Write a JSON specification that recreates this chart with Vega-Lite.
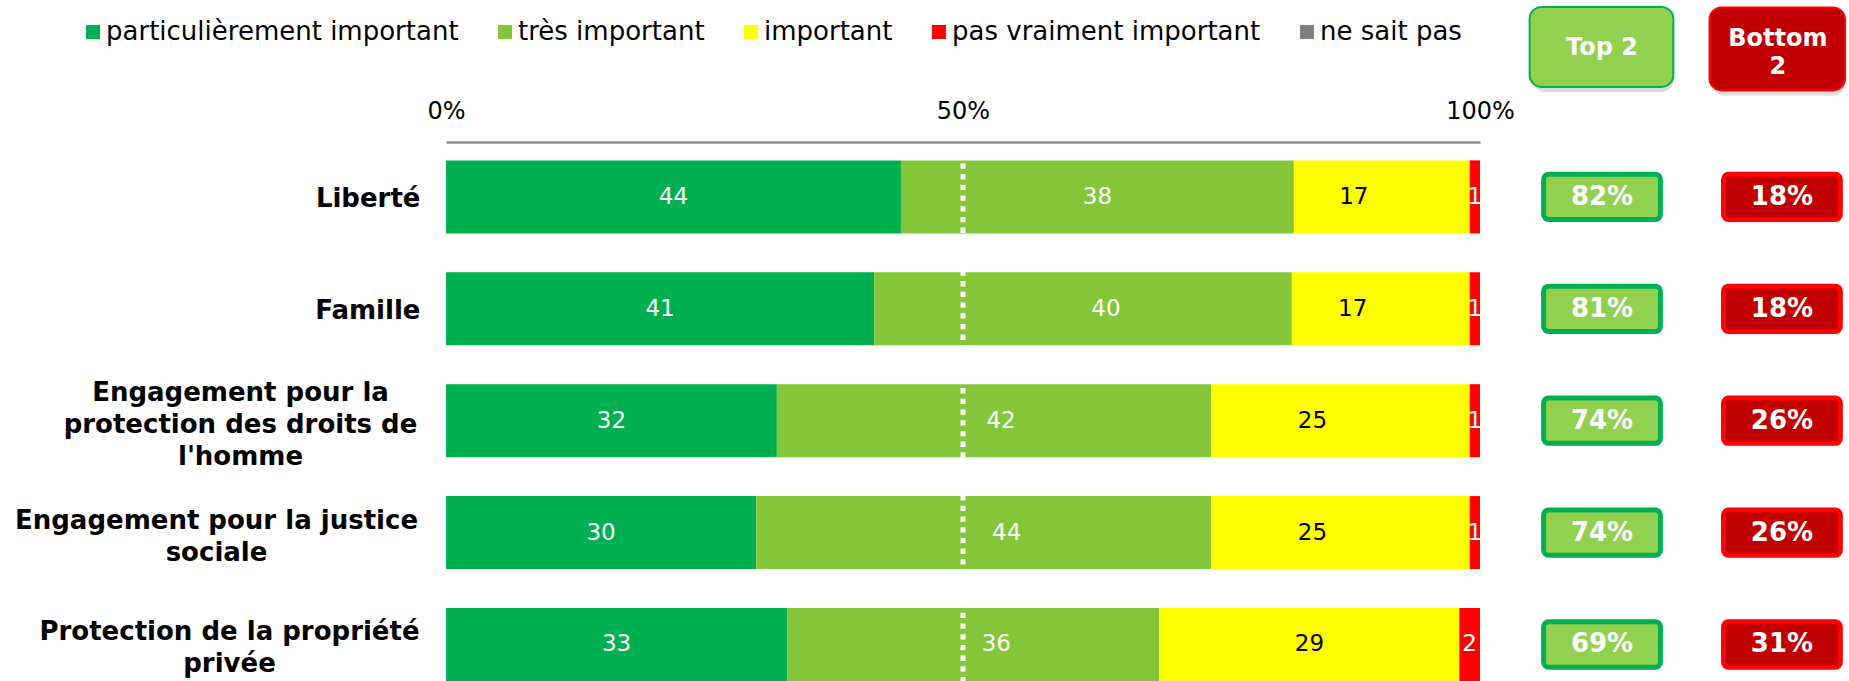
{
  "$schema": "https://vega.github.io/schema/vega-lite/v6.json",
  "autosize": "none",
  "padding": {"left": 446, "top": 142, "right": 369, "bottom": 0},
  "width": 1034,
  "height": 539,
  "background": "white",
  "config": {"view": {"stroke": null}, "font": "DejaVu Sans"},
  "datasets": {
    "shares": [
      {"item": "Liberté", "cat": "particulièrement important", "o": 1, "v": 44},
      {"item": "Liberté", "cat": "très important", "o": 2, "v": 38},
      {"item": "Liberté", "cat": "important", "o": 3, "v": 17},
      {"item": "Liberté", "cat": "pas vraiment important", "o": 4, "v": 1},
      {"item": "Famille", "cat": "particulièrement important", "o": 1, "v": 41.4},
      {"item": "Famille", "cat": "très important", "o": 2, "v": 40.4},
      {"item": "Famille", "cat": "important", "o": 3, "v": 17.2},
      {"item": "Famille", "cat": "pas vraiment important", "o": 4, "v": 1},
      {"item": "Engagement pour la protection des droits de l'homme", "cat": "particulièrement important", "o": 1, "v": 32},
      {"item": "Engagement pour la protection des droits de l'homme", "cat": "très important", "o": 2, "v": 42},
      {"item": "Engagement pour la protection des droits de l'homme", "cat": "important", "o": 3, "v": 25},
      {"item": "Engagement pour la protection des droits de l'homme", "cat": "pas vraiment important", "o": 4, "v": 1},
      {"item": "Engagement pour la justice sociale", "cat": "particulièrement important", "o": 1, "v": 30},
      {"item": "Engagement pour la justice sociale", "cat": "très important", "o": 2, "v": 44},
      {"item": "Engagement pour la justice sociale", "cat": "important", "o": 3, "v": 25},
      {"item": "Engagement pour la justice sociale", "cat": "pas vraiment important", "o": 4, "v": 1},
      {"item": "Protection de la propriété privée", "cat": "particulièrement important", "o": 1, "v": 33},
      {"item": "Protection de la propriété privée", "cat": "très important", "o": 2, "v": 36},
      {"item": "Protection de la propriété privée", "cat": "important", "o": 3, "v": 29},
      {"item": "Protection de la propriété privée", "cat": "pas vraiment important", "o": 4, "v": 2}
    ],
    "tb": [
      {"item": "Liberté", "top2": 0.82, "bottom2": 0.18},
      {"item": "Famille", "top2": 0.81, "bottom2": 0.18},
      {"item": "Engagement pour la protection des droits de l'homme", "top2": 0.74, "bottom2": 0.26},
      {"item": "Engagement pour la justice sociale", "top2": 0.74, "bottom2": 0.26},
      {"item": "Protection de la propriété privée", "top2": 0.69, "bottom2": 0.31}
    ]
  },
  "layer": [
    {
      "data": {"name": "shares"},
      "mark": {"type": "bar"},
      "encoding": {
        "y": {
          "field": "item", "type": "nominal", "title": null,
          "scale": {
            "domain": ["Liberté", "Famille", "Engagement pour la protection des droits de l'homme", "Engagement pour la justice sociale", "Protection de la propriété privée"],
            "paddingInner": 0.3476, "paddingOuter": 0.0822, "align": 1
          },
          "axis": {
            "domain": false, "ticks": false, "tickSize": 0, "grid": false,
            "labelFontSize": 26, "labelFontWeight": "bold", "labelColor": "black",
            "labelLimit": 600, "labelLineHeight": 32, "labelBaseline": "middle",
            "labelExpr": "datum.value == \"Engagement pour la protection des droits de l'homme\" ? ['Engagement pour la', 'protection des droits de', \"l'homme\"] : datum.value == 'Engagement pour la justice sociale' ? ['Engagement pour la justice', 'sociale'] : datum.value == 'Protection de la propriété privée' ? ['Protection de la propriété', 'privée'] : datum.value",
            "labelAlign": {"condition": {"test": "indexof(datum.value, 'Engagement') == 0 || indexof(datum.value, 'Protection') == 0", "value": "center"}, "value": "right"},
            "labelPadding": {"condition": [
              {"test": "datum.value == 'Engagement pour la justice sociale'", "value": 230},
              {"test": "indexof(datum.value, 'droits') >= 0", "value": 206},
              {"test": "indexof(datum.value, 'Protection') == 0", "value": 217}
            ], "value": 26},
            "labelOffset": {"condition": [
              {"test": "indexof(datum.value, 'droits') >= 0", "value": -28},
              {"test": "indexof(datum.value, 'Engagement') == 0 || indexof(datum.value, 'Protection') == 0", "value": -12}
            ], "value": 2}
          }
        },
        "x": {
          "field": "v", "type": "quantitative", "stack": "zero",
          "scale": {"domain": [0, 100], "nice": false},
          "axis": {
            "orient": "top", "values": [0, 50, 100], "labelExpr": "datum.value + '%'",
            "title": null, "grid": false, "ticks": false, "tickSize": 0,
            "labelPadding": 31, "labelBaseline": "middle", "labelFontSize": 24,
            "labelColor": "black", "labelFlush": false, "labelOverlap": false,
            "domain": true, "domainColor": "#8c8c8c", "domainWidth": 2.5, "zindex": 1
          }
        },
        "color": {
          "field": "cat", "type": "nominal",
          "scale": {
            "domain": ["particulièrement important", "très important", "important", "pas vraiment important", "ne sait pas"],
            "range": ["#00B050", "#84C63A", "#FFFF00", "#FF0000", "#808080"]
          },
          "legend": {
            "orient": "none", "legendX": -366, "legendY": -123, "direction": "horizontal",
            "title": null, "symbolType": "square", "symbolSize": 196, "symbolStrokeWidth": 0,
            "labelFontSize": 26, "labelColor": "black", "labelOffset": 0, "columnPadding": 33,
            "labelLimit": 600
          }
        },
        "order": {"field": "o", "type": "quantitative"}
      }
    },
    {
      "data": {"values": [{}]},
      "mark": {"type": "rule", "color": "white", "strokeWidth": 5, "strokeDash": [5.3, 5.4]},
      "encoding": {"x": {"datum": 50}}
    },
    {
      "data": {"name": "shares"},
      "mark": {"type": "text", "fontSize": 23},
      "encoding": {
        "y": {"field": "item", "type": "nominal"},
        "x": {"field": "v", "type": "quantitative", "stack": "zero", "bandPosition": 0.5},
        "detail": {"field": "cat"},
        "order": {"field": "o", "type": "quantitative"},
        "text": {"condition": {"test": "!((datum.cat == 'important' && datum.item != 'Protection de la propriété privée') || (datum.cat == 'très important' && datum.item != 'Liberté'))", "field": "v", "type": "quantitative", "format": ".0f"}, "value": ""},
        "color": {"condition": {"test": "datum.cat == 'important'", "value": "black"}, "value": "white"}
      }
    },
    {
      "data": {"name": "shares"},
      "mark": {"type": "text", "fontSize": 23, "dx": -28, "color": "black"},
      "encoding": {
        "y": {"field": "item", "type": "nominal"},
        "x": {"field": "v", "type": "quantitative", "stack": "zero", "bandPosition": 0.5},
        "detail": {"field": "cat"},
        "order": {"field": "o", "type": "quantitative"},
        "text": {"condition": {"test": "datum.cat == 'important' && datum.item != 'Protection de la propriété privée'", "field": "v", "type": "quantitative", "format": ".0f"}, "value": ""}
      }
    },
    {
      "data": {"name": "shares"},
      "mark": {"type": "text", "fontSize": 23, "dx": 23, "color": "white"},
      "encoding": {
        "y": {"field": "item", "type": "nominal"},
        "x": {"field": "v", "type": "quantitative", "stack": "zero", "bandPosition": 0.5},
        "detail": {"field": "cat"},
        "order": {"field": "o", "type": "quantitative"},
        "text": {"condition": {"test": "datum.cat == 'très important' && (datum.item == 'Famille' || datum.item == 'Engagement pour la justice sociale' || datum.item == 'Protection de la propriété privée')", "field": "v", "type": "quantitative", "format": ".0f"}, "value": ""}
      }
    },
    {
      "data": {"name": "shares"},
      "mark": {"type": "text", "fontSize": 23, "dx": 7, "color": "white"},
      "encoding": {
        "y": {"field": "item", "type": "nominal"},
        "x": {"field": "v", "type": "quantitative", "stack": "zero", "bandPosition": 0.5},
        "detail": {"field": "cat"},
        "order": {"field": "o", "type": "quantitative"},
        "text": {"condition": {"test": "datum.cat == 'très important' && indexof(datum.item, 'droits') >= 0", "field": "v", "type": "quantitative", "format": ".0f"}, "value": ""}
      }
    },
    {
      "data": {"name": "tb"},
      "mark": {"type": "bar", "fill": "#92D050", "stroke": "#00B050", "strokeWidth": 5, "cornerRadius": 5, "height": {"band": 0.62}},
      "encoding": {
        "y": {"field": "item", "type": "nominal"},
        "x": {"datum": 106.15},
        "x2": {"datum": 117.45}
      }
    },
    {
      "data": {"name": "tb"},
      "mark": {"type": "text", "fontSize": 26, "fontWeight": "bold", "color": "white"},
      "encoding": {
        "y": {"field": "item", "type": "nominal"},
        "x": {"datum": 111.8},
        "text": {"field": "top2", "type": "quantitative", "format": ".0%"}
      }
    },
    {
      "data": {"name": "tb"},
      "mark": {"type": "bar", "fill": "#C00000", "stroke": "#FF0000", "strokeWidth": 5, "cornerRadius": 5, "height": {"band": 0.62}},
      "encoding": {
        "y": {"field": "item", "type": "nominal"},
        "x": {"datum": 123.55},
        "x2": {"datum": 134.85}
      }
    },
    {
      "data": {"name": "tb"},
      "mark": {"type": "text", "fontSize": 26, "fontWeight": "bold", "color": "white"},
      "encoding": {
        "y": {"field": "item", "type": "nominal"},
        "x": {"datum": 129.2},
        "text": {"field": "bottom2", "type": "quantitative", "format": ".0%"}
      }
    },
    {
      "data": {"values": [{"h": "Top 2"}]},
      "mark": {"type": "bar", "fill": "#9a9a9a", "opacity": 0.35, "cornerRadius": 12, "height": 80, "yOffset": -145, "xOffset": 3},
      "encoding": {"y": {"datum": "Liberté"}, "x": {"datum": 104.8}, "x2": {"datum": 118.7}}
    },
    {
      "data": {"values": [{"h": "Bottom 2"}]},
      "mark": {"type": "bar", "fill": "#9a9a9a", "opacity": 0.35, "cornerRadius": 12, "height": 83, "yOffset": -143, "xOffset": 3},
      "encoding": {"y": {"datum": "Liberté"}, "x": {"datum": 122.2}, "x2": {"datum": 135.3}}
    },
    {
      "data": {"values": [{"h": "Top 2"}]},
      "mark": {"type": "bar", "fill": "#92D050", "stroke": "#00B050", "strokeWidth": 2, "cornerRadius": 12, "height": 80, "yOffset": -150},
      "encoding": {"y": {"datum": "Liberté"}, "x": {"datum": 104.8}, "x2": {"datum": 118.7}}
    },
    {
      "data": {"values": [{"h": "Bottom 2"}]},
      "mark": {"type": "bar", "fill": "#C00000", "stroke": "#FF0000", "strokeWidth": 2, "cornerRadius": 12, "height": 83, "yOffset": -148},
      "encoding": {"y": {"datum": "Liberté"}, "x": {"datum": 122.2}, "x2": {"datum": 135.3}}
    },
    {
      "data": {"values": [{"h": "Top 2"}]},
      "mark": {"type": "text", "fontSize": 24, "fontWeight": "bold", "color": "white", "yOffset": -149},
      "encoding": {"y": {"datum": "Liberté"}, "x": {"datum": 111.8}, "text": {"field": "h"}}
    },
    {
      "data": {"values": [{"h": "Bottom 2"}]},
      "mark": {"type": "text", "fontSize": 24, "fontWeight": "bold", "color": "white", "yOffset": -158, "lineHeight": 28},
      "encoding": {"y": {"datum": "Liberté"}, "x": {"datum": 128.8}, "text": {"value": ["Bottom", "2"]}}
    }
  ]
}
